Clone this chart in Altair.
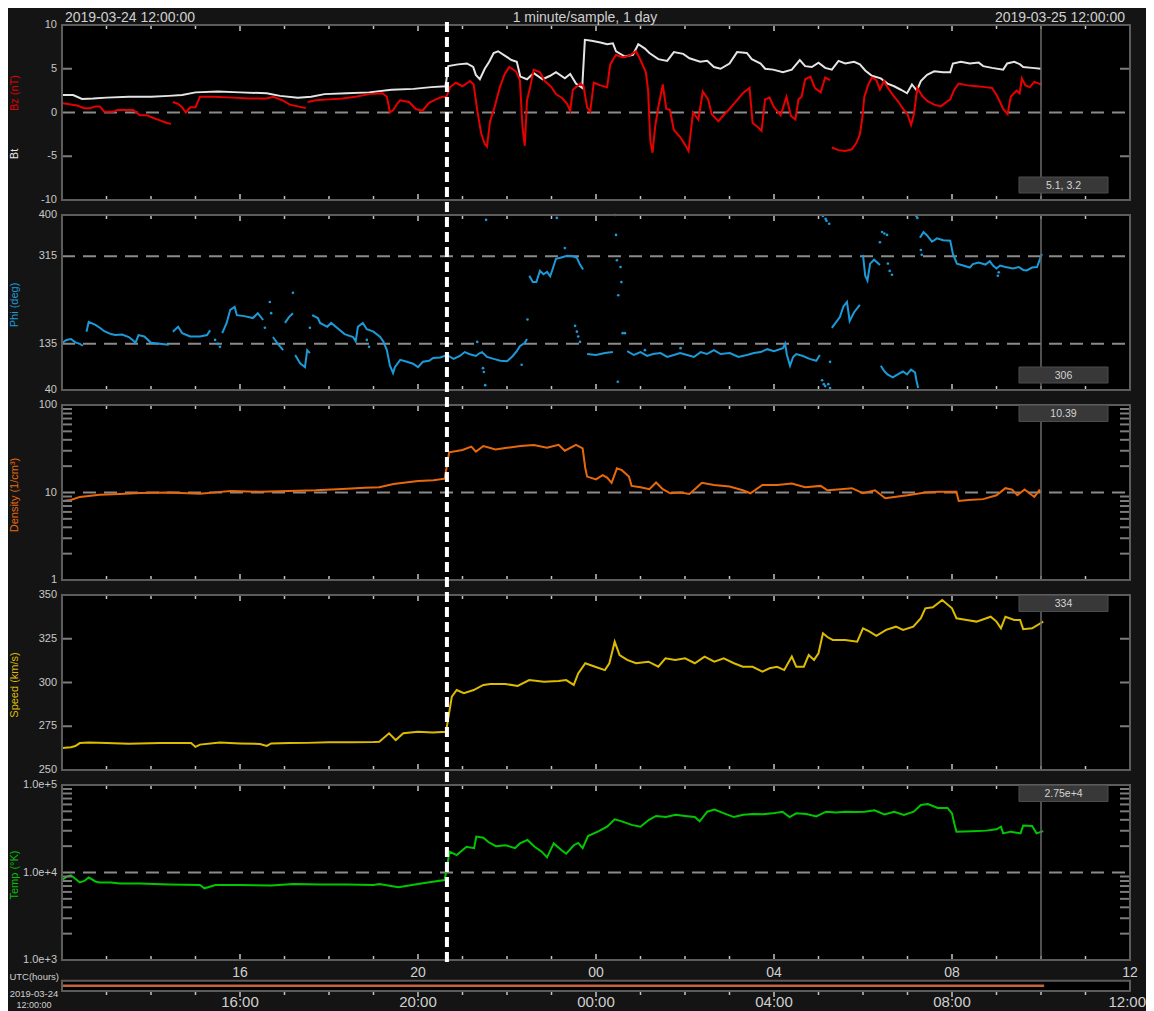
import altair as alt
import pandas as pd

# ---------------- data: (hours after 2019-03-24 12:00 UTC, value); None = gap ----------------
bt = [(0.0,2.0),(0.25,2.0),(0.45,1.55),(0.7,1.6),(1.0,1.7),(1.5,1.8),(2.0,1.8),(2.4,1.9),(2.7,2.0),
      (3.0,2.3),(3.5,2.4),(4.0,2.3),(4.6,2.2),(4.9,1.9),(5.3,1.7),(5.6,1.8),(5.9,2.1),(6.4,2.2),
      (6.9,2.3),(7.4,2.6),(7.9,2.7),(8.3,2.9),(8.62,3.0),(8.68,5.3),(8.9,5.5),(9.1,5.6),(9.24,5.2),
      (9.3,4.3),(9.39,3.8),(9.5,5.0),(9.6,5.8),(9.7,6.8),(9.8,7.0),(9.95,6.5),(10.1,6.0),(10.22,5.8),
      (10.3,4.1),(10.45,3.8),(10.6,4.5),(10.8,3.8),(10.97,4.2),(11.1,4.6),(11.3,3.9),(11.42,4.4),
      (11.55,3.3),(11.69,2.8),(11.75,8.3),(11.9,8.2),(12.1,8.0),(12.25,7.8),(12.38,7.9),(12.45,7.0),
      (12.65,6.4),(12.83,6.6),(12.95,7.8),(13.1,7.3),(13.2,6.8),(13.4,6.1),(13.6,5.9),(13.75,6.9),
      (13.96,6.7),(14.1,6.2),(14.34,5.8),(14.5,5.9),(14.65,5.2),(14.8,5.0),(15.0,5.6),(15.17,6.9),
      (15.39,6.8),(15.5,6.1),(15.7,5.6),(15.8,5.0),(15.98,4.9),(16.2,4.6),(16.4,4.9),(16.58,6.0),
      (16.7,5.3),(16.85,5.2),(17.0,5.7),(17.15,5.1),(17.3,4.9),(17.45,5.9),(17.6,5.6),(17.8,5.8),
      (17.93,5.5),(18.05,4.8),(18.2,4.2),(18.4,3.9),(18.55,3.3),(18.7,3.0),(18.85,2.6),(18.99,2.2),
      (19.1,3.2),(19.21,2.5),(19.3,3.6),(19.44,4.3),(19.6,4.7),(19.8,4.6),(19.96,4.6),(20.02,5.6),
      (20.2,5.8),(20.4,5.6),(20.6,5.7),(20.7,5.3),(20.9,5.1),(21.15,4.9),(21.24,5.6),(21.4,5.8),
      (21.53,5.5),(21.6,5.2),(21.8,5.1),(22.0,5.0)]

bz = [(0.02,1.05),(0.34,0.8),(0.5,0.5),(0.63,0.5),(0.75,0.7),(0.85,0.7),(0.95,0.1),(1.15,0.1),
      (1.25,0.3),(1.6,0.3),(1.75,-0.3),(1.9,-0.3),(2.04,-0.6),(2.2,-0.9),(2.36,-1.2),(2.45,-1.3), None,
      (2.49,1.2),(2.6,1.0),(2.7,0.6),(2.78,0.0),(2.88,0.6),(3.0,0.6),(3.1,1.8),(3.4,1.8),(3.84,1.7),
      (4.2,1.6),(4.6,1.6),(4.75,1.8),(4.95,1.4),(5.12,0.9),(5.3,0.7),(5.48,0.5), None,
      (5.52,1.2),(5.7,1.4),(6.0,1.5),(6.3,1.6),(6.6,1.8),(6.9,2.1),(7.2,2.2),(7.3,1.8),(7.37,0.0),
      (7.45,0.3),(7.53,1.0),(7.6,1.4),(7.8,1.2),(7.95,0.4),(8.1,0.2),(8.25,1.1),(8.4,1.5),(8.55,1.8),
      (8.64,1.8),(8.72,2.9),(8.85,3.4),(9.0,3.0),(9.17,3.6),(9.25,3.2),(9.33,0.3),(9.42,-2.4),
      (9.5,-3.6),(9.55,-3.9),(9.62,-1.0),(9.72,0.6),(9.84,2.9),(9.95,4.4),(10.05,5.2),(10.2,4.7),
      (10.29,3.7),(10.35,-1.8),(10.4,-3.8),(10.45,1.4),(10.52,2.9),(10.6,4.9),(10.74,4.6),(10.85,3.6),
      (11.0,2.9),(11.1,2.1),(11.25,1.6),(11.35,1.0),(11.42,0.2),(11.48,2.6),(11.65,3.3),(11.72,3.0),
      (11.8,0.6),(11.87,0.1),(11.95,3.4),(12.1,3.1),(12.25,2.9),(12.32,5.5),(12.45,6.6),(12.6,6.3),
      (12.75,6.5),(12.9,7.0),(13.0,6.0),(13.12,4.6),(13.17,2.6),(13.22,-3.2),(13.27,-4.6),(13.33,-1.6),
      (13.4,0.6),(13.5,3.2),(13.58,0.4),(13.66,0.3),(13.75,-2.0),(13.89,-2.8),(13.98,-3.5),(14.08,-4.4),
      (14.18,0.0),(14.3,-0.8),(14.4,2.4),(14.52,1.5),(14.6,-0.2),(14.75,-1.0),(14.85,-0.4),(15.0,0.4),
      (15.15,1.3),(15.3,2.2),(15.45,2.8),(15.52,-1.2),(15.62,-1.6),(15.72,-2.1),(15.8,1.5),(15.9,1.7),
      (16.0,0.6),(16.15,-0.3),(16.28,1.8),(16.38,-0.4),(16.48,-0.8),(16.55,1.5),(16.62,1.8),(16.7,3.8),
      (16.82,4.1),(16.92,2.8),(17.05,2.3),(17.15,4.0),(17.26,3.7), None,
      (17.3,-4.0),(17.45,-4.3),(17.6,-4.4),(17.75,-4.2),(17.85,-3.5),(17.93,-2.5),(17.98,-0.8),
      (18.03,1.8),(18.12,3.2),(18.2,4.0),(18.3,3.7),(18.38,2.6),(18.47,3.6),(18.55,2.9),(18.67,2.0),
      (18.8,1.2),(18.9,0.4),(19.0,-0.2),(19.08,-1.4),(19.14,-0.3),(19.22,2.8),(19.33,1.9),(19.45,1.3),
      (19.6,0.9),(19.75,0.7),(19.85,1.1),(19.96,1.5),(20.05,2.6),(20.15,3.3),(20.35,3.1),(20.55,3.0),
      (20.75,2.9),(20.9,2.8),(21.0,2.0),(21.08,1.2),(21.15,0.4),(21.25,-0.2),(21.32,1.8),(21.45,2.5),
      (21.52,2.2),(21.57,3.9),(21.65,3.1),(21.75,2.9),(21.85,3.5),(21.95,3.3),(22.02,3.2)]

phi = [(0.0,137),(0.1,143),(0.2,145),(0.3,138),(0.4,135),(0.47,131), None,
       (0.55,160),(0.6,180),(0.75,174),(0.85,168),(0.95,161),(1.1,155),(1.2,153),(1.35,154),(1.5,149),
       (1.6,142),(1.65,137),(1.72,153),(1.85,150),(2.0,137),(2.2,135),(2.4,133), None,
       (2.49,160),(2.61,170),(2.7,157),(2.88,150),(3.1,150),(3.26,153),(3.33,163), None,
       (3.6,157),(3.7,178),(3.78,205),(3.88,211),(3.93,194),(4.1,192),(4.29,188),(4.4,198),(4.52,184), None,
       (4.74,149),(4.85,135),(4.97,122), None,
       (5.01,178),(5.1,190),(5.19,198), None,
       (5.24,112),(5.35,95),(5.46,87),(5.51,122),(5.57,116), None,
       (5.62,194),(5.75,188),(5.8,178),(5.96,170),(6.05,178),(6.18,168),(6.35,155),(6.54,149),(6.6,140),
       (6.65,170),(6.76,178),(6.85,165),(7.0,160),(7.15,149),(7.22,140),(7.3,122),(7.37,90),(7.44,75),
       (7.48,87),(7.6,102),(7.75,98),(7.89,94),(8.0,87),(8.11,98),(8.25,100),(8.34,106),(8.5,107),
       (8.65,112),(8.8,104),(8.94,110),(9.05,118),(9.15,114),(9.3,110),(9.39,116),(9.44,118),(9.55,108),
       (9.7,104),(9.85,100),(10.0,99),(10.13,110),(10.22,120),(10.29,130),(10.4,137),(10.45,145), None,
       (10.5,275),(10.58,262),(10.66,262),(10.74,285),(10.82,278),(10.9,283),(10.97,274),(11.03,290),
       (11.1,310),(11.2,312),(11.35,316),(11.48,315),(11.57,312),(11.64,298),(11.71,288), None,
       (11.8,114),(12.0,112),(12.2,116),(12.38,118), None,
       (12.7,120),(12.85,112),(13.0,118),(13.15,110),(13.28,114),(13.45,116),(13.6,108),(13.75,112),
       (13.89,116),(14.05,112),(14.2,108),(14.35,118),(14.49,114),(14.65,122),(14.8,114),(15.01,116),
       (15.2,108),(15.39,112),(15.55,116),(15.7,118),(15.85,124),(16.0,120),(16.2,126),(16.25,135),
       (16.29,112),(16.36,90),(16.43,108),(16.5,114),(16.65,110),(16.8,104),(16.95,100),(17.03,112), None,
       (17.3,168),(17.4,180),(17.48,190),(17.56,212),(17.64,221),(17.7,182),(17.8,200),(17.93,215), None,
       (18.0,318),(18.05,275),(18.1,265),(18.16,300),(18.25,308),(18.38,297), None,
       (18.4,90),(18.47,80),(18.55,72),(18.67,66),(18.8,73),(18.9,78),(18.99,72),(19.08,82),(19.17,76),
       (19.2,60),(19.24,44), None,
       (19.28,353),(19.36,365),(19.44,358),(19.55,345),(19.66,352),(19.8,348),(19.96,347),(20.02,320),
       (20.11,300),(20.25,296),(20.4,292),(20.47,299),(20.6,302),(20.75,298),(20.85,305),(20.92,296),
       (21.0,290),(21.08,296),(21.2,293),(21.37,290),(21.5,293),(21.6,287),(21.68,286),(21.8,292),
       (21.91,293),(21.96,305),(22.02,320)]

phi_dots = [(3.44,143),(3.5,135),(3.55,129),(4.56,168),(4.67,221),(4.7,198),(5.19,240),(5.57,168),
            (6.85,143),(6.9,129),(9.33,139),(9.46,85),(9.48,77),(9.51,50),(9.53,390),(10.33,92),
            (10.46,185),(11.12,394),(11.3,332),(11.53,172),(11.57,160),(11.6,150),(11.64,139),
            (12.43,400),(12.45,359),(12.47,307),(12.49,57),(12.5,235),(12.55,293),(12.57,262),
            (12.6,157),(12.65,157),(13.1,122),(13.9,126),(17.08,60),(17.12,52),(17.15,48),(17.22,52),
            (17.26,44),(17.1,398),(17.16,392),(17.18,388),(17.24,382),(17.26,98),(18.38,344),
            (18.43,365),(18.48,362),(18.54,359),(18.56,300),(18.6,285),(18.65,277),(19.2,398),
            (19.22,394),(19.3,328),(19.32,318),(21.03,275),(21.05,282)]

density = [(0.0,8.0),(0.2,8.2),(0.4,8.9),(0.6,9.1),(0.85,9.4),(1.3,9.6),(1.75,9.9),(2.4,10.0),(3.1,9.7),
           (3.5,10.1),(3.8,10.4),(4.45,10.2),(5.1,10.4),(5.7,10.6),(6.3,11.0),(6.8,11.3),(7.13,11.5),
           (7.45,12.5),(8.0,13.5),(8.35,13.8),(8.6,14.4),(8.7,28.8),(9.0,30.6),(9.2,33.4),(9.3,29.3),
           (9.47,34.0),(9.74,31.0),(10.0,32.4),(10.3,34.0),(10.6,34.9),(10.9,32.4),(11.16,35.0),
           (11.3,30.0),(11.55,35.0),(11.7,32.0),(11.76,18.9),(11.8,15.2),(12.0,14.1),(12.15,15.8),
           (12.25,14.8),(12.35,12.9),(12.47,18.9),(12.58,18.0),(12.74,15.2),(12.8,11.9),(13.0,11.5),
           (13.2,10.9),(13.35,13.0),(13.5,10.9),(13.67,9.8),(13.9,10.0),(14.1,9.6),(14.27,11.5),
           (14.38,12.9),(14.65,12.2),(15.0,11.7),(15.3,10.6),(15.47,9.8),(15.74,12.2),(16.07,12.2),
           (16.4,12.7),(16.7,11.5),(17.05,11.9),(17.2,10.6),(17.5,10.9),(17.75,11.2),(18.0,9.8),
           (18.27,10.6),(18.5,8.6),(18.7,8.9),(19.0,9.3),(19.4,10.0),(19.7,10.2),(20.1,10.2),(20.15,8.0),
           (20.37,8.2),(20.7,8.4),(21.0,9.3),(21.2,11.2),(21.35,10.8),(21.47,9.3),(21.63,10.8),
           (21.85,8.9),(21.96,10.6),(22.0,10.1)]

speed = [(0.0,262.6),(0.2,263.0),(0.3,263.7),(0.4,265.4),(0.6,265.7),(1.0,265.4),(1.5,265.0),(2.2,265.4),
         (2.9,265.4),(3.0,263.2),(3.1,264.5),(3.55,265.7),(4.0,265.2),(4.45,264.9),(4.6,263.8),(4.7,265.2),
         (5.1,265.4),(5.5,265.5),(6.0,265.8),(6.5,265.8),(7.0,266.0),(7.13,266.2),(7.35,271.0),(7.5,267.1),
         (7.67,271.0),(8.0,271.9),(8.33,271.5),(8.63,271.9),(8.76,291.9),(8.87,295.7),(9.03,293.9),
         (9.25,295.7),(9.47,298.6),(9.63,299.2),(9.96,299.2),(10.24,298.0),(10.5,301.4),(10.83,300.5),
         (11.16,300.9),(11.33,301.4),(11.5,298.6),(11.6,305.2),(11.76,311.0),(11.98,309.0),(12.2,307.1),
         (12.3,311.0),(12.42,323.3),(12.53,315.7),(12.7,312.9),(12.9,311.0),(13.18,311.9),(13.4,309.0),
         (13.56,313.8),(13.78,312.9),(14.0,313.8),(14.22,311.0),(14.44,314.8),(14.66,311.9),(14.87,313.8),
         (15.1,311.0),(15.3,309.0),(15.52,309.0),(15.74,306.2),(15.9,308.1),(16.07,309.0),(16.23,307.1),
         (16.4,314.8),(16.5,309.0),(16.67,309.0),(16.78,315.7),(16.9,312.9),(17.0,316.7),(17.1,328.1),
         (17.2,326.0),(17.32,324.3),(17.6,324.3),(17.87,323.3),(18.0,331.0),(18.14,329.2),(18.3,326.7),
         (18.52,330.1),(18.74,331.9),(18.9,330.0),(19.13,331.9),(19.3,336.7),(19.4,342.4),(19.57,343.0),
         (19.78,347.1),(20.0,342.4),(20.1,336.7),(20.33,335.7),(20.55,334.8),(20.87,337.6),(21.0,334.8),
         (21.1,331.0),(21.2,337.6),(21.4,335.7),(21.53,335.7),(21.6,330.5),(21.8,331.0),(22.05,334.8)]

temp = [(0.0,8200),(0.1,8900),(0.2,9300),(0.3,8500),(0.4,7700),(0.5,8000),(0.6,8800),(0.75,7900),
        (0.85,7700),(1.1,7700),(1.3,7500),(1.75,7500),(2.4,7300),(3.1,7200),(3.2,6600),(3.45,7200),
        (4.0,7200),(4.7,7100),(5.2,7400),(5.8,7300),(6.4,7300),(7.0,7200),(7.13,7400),(7.56,6800),
        (8.0,7400),(8.33,7850),(8.6,8200),(8.71,17300),(8.87,15800),(9.09,19700),(9.26,19000),
        (9.31,25700),(9.47,25000),(9.58,22300),(9.75,20000),(9.97,20500),(10.18,19000),(10.29,21500),
        (10.46,23500),(10.62,19700),(10.78,17300),(10.9,14900),(11.05,21500),(11.22,18100),(11.33,16400),
        (11.5,20500),(11.6,21800),(11.7,19000),(11.82,26100),(12.04,29300),(12.25,33400),(12.42,40600),
        (12.58,38400),(12.8,35000),(13.0,33400),(13.19,40000),(13.35,44300),(13.57,43000),(13.79,45600),
        (14.0,44300),(14.22,43000),(14.33,38400),(14.5,49500),(14.66,52400),(14.88,47400),(15.1,43000),
        (15.31,45600),(15.53,46500),(15.75,46200),(15.97,47400),(16.19,49500),(16.35,43000),(16.5,47400),
        (16.73,46500),(16.95,43700),(17.17,49500),(17.39,48600),(17.6,49500),(17.83,49000),(18.04,49500),
        (18.26,51500),(18.48,46200),(18.7,49500),(18.92,45600),(19.14,49500),(19.3,59100),(19.46,60500),
        (19.68,54700),(19.9,54700),(20.0,47400),(20.05,36500),(20.1,29300),(20.45,29700),(20.77,30100),
        (21.0,31200),(21.1,33400),(21.15,28000),(21.32,29300),(21.54,28000),(21.6,34500),(21.8,34000),
        (21.9,28000),(22.05,29700)]

# tick values and labels
bz_ticks = [10, 5, 0, -5, -10]
phi_ticks = [400, 315, 135, 40]
dens_ticks = [100, 10, 1]
speed_ticks = [350, 325, 300, 275, 250]
temp_ticks = [100000, 10000, 1000]
temp_labels = ["1.0e+5", "1.0e+4", "1.0e+3"]
hour_pos = [4, 8, 12, 16, 20, 24]
hour_labels = ["16", "20", "00", "04", "08", "12"]
hhmm_pos = [4, 8, 12, 16, 20]
hhmm_labels = ["16:00", "20:00", "00:00", "04:00", "08:00"]
last_hhmm = "12:00"
latest = ["5.1, 3.2", "306", "10.39", "334", "2.75e+4"]
event_hour = 8.65
now_hour = 22.0

# ---------------- layout / style ----------------
W = 1068
PH = 175
TOPS = [0, 190, 380, 570, 760]
FONT = "Liberation Sans"
LBL = "#c8c8c8"

XS = alt.Scale(domain=[0, 24], nice=False, zero=False)


def ysc(i, dom, log=False):
    r = [TOPS[i] + PH, TOPS[i]]
    if log:
        return alt.Scale(type="log", domain=dom, range=r, nice=False)
    return alt.Scale(domain=dom, range=r, nice=False, zero=False)


YS = [ysc(0, [-10, 10]), ysc(1, [40, 400]), ysc(2, [1, 100], True),
      ysc(3, [250, 350]), ysc(4, [1000, 100000], True)]


def seg_df(pairs):
    rows, s = [], 0
    for p in pairs:
        if p is None:
            s += 1
            continue
        rows.append({"h": p[0], "v": p[1], "seg": s})
    return pd.DataFrame(rows)


def line(pairs, i, color, width=2.0):
    return alt.Chart(seg_df(pairs)).mark_line(color=color, strokeWidth=width).encode(
        x=alt.X("h:Q", scale=XS, axis=None),
        y=alt.Y("v:Q", scale=YS[i], axis=None),
        detail="seg:N")


def dots(pairs, i, color):
    return alt.Chart(seg_df(pairs)).mark_circle(color=color, size=7, opacity=1).encode(
        x=alt.X("h:Q", scale=XS, axis=None),
        y=alt.Y("v:Q", scale=YS[i], axis=None))


def hline(vals, i):
    return alt.Chart(pd.DataFrame({"v": vals})).mark_rule(
        color="#8a8a8a", strokeWidth=2, strokeDash=[13, 8]).encode(
        y=alt.Y("v:Q", scale=YS[i], axis=None), x=alt.value(0), x2=alt.value(W))


def yticks(vals, i, length=10):
    base = alt.Chart(pd.DataFrame({"v": vals})).mark_rule(color="#7c7c7c", strokeWidth=2)
    y = alt.Y("v:Q", scale=YS[i], axis=None)
    return [base.encode(y=y, x=alt.value(0), x2=alt.value(length)),
            base.encode(y=y, x=alt.value(W - length), x2=alt.value(W))]


def ylabels(vals, labels, i):
    df = pd.DataFrame({"v": vals, "t": labels})
    return alt.Chart(df).mark_text(align="right", baseline="middle", font=FONT,
                                   fontSize=11, color=LBL).encode(
        y=alt.Y("v:Q", scale=YS[i], axis=None), x=alt.value(-5), text="t:N")


def text(s, x, y, size=11, color=LBL, align="left", baseline="alphabetic", angle=0):
    kw = dict(font=FONT, fontSize=size, color=color, align=align, baseline=baseline)
    if angle:
        kw["angle"] = angle
    return alt.Chart(pd.DataFrame({"t": [s]})).mark_text(**kw).encode(
        text="t:N", x=alt.value(x), y=alt.value(y))


layers = []

# black plot areas (5 panels + time strip)
frames = pd.DataFrame({"top": TOPS + [955.7], "bot": [t + PH for t in TOPS] + [966]})
layers.append(alt.Chart(frames).mark_rect(fill="#000000").encode(
    x=alt.value(0), x2=alt.value(W), y=alt.Y("top:Q", scale=None), y2="bot:Q"))

# dashed reference lines
layers += [hline([0], 0), hline([315, 135], 1), hline([10], 2), hline([10000], 4)]

# data
layers.append(line(bt, 0, "#e4e4e4"))
layers.append(line(bz, 0, "#e60000"))
layers.append(line(phi, 1, "#1c9ad8"))
layers.append(dots(phi_dots, 1, "#1c9ad8"))
layers.append(line(density, 2, "#e8680c"))
layers.append(line(speed, 3, "#dcbc00"))
layers.append(line(temp, 4, "#00c800"))

# inner y ticks
minor_dens = [m * d for d in (1, 10) for m in range(2, 10)]
minor_temp = [m * d for d in (1000, 10000) for m in range(2, 10)]
layers += yticks([5, -5], 0)
layers += yticks(minor_dens, 2)
layers += yticks([325, 300, 275], 3)
layers += yticks(minor_temp, 4)

# hour ticks (top & bottom of each panel, below the strip)
rows = []
for t in TOPS:
    for h in range(1, 24):
        L = 6 if h % 4 == 0 else 4
        rows.append({"h": h, "y1": t, "y2": t + L})
        rows.append({"h": h, "y1": t + PH - L, "y2": t + PH})
for h in range(1, 24):
    L = 6 if h % 4 == 0 else 4
    rows.append({"h": h, "y1": 966, "y2": 966 + L})
layers.append(alt.Chart(pd.DataFrame(rows)).mark_rule(color="#c4c4c4", strokeWidth=1.5).encode(
    x=alt.X("h:Q", scale=XS, axis=None), y=alt.Y("y1:Q", scale=None), y2="y2:Q"))

# current-time vertical line
now_df = pd.DataFrame({"h": [now_hour] * 5, "y1": TOPS, "y2": [t + PH for t in TOPS]})
layers.append(alt.Chart(now_df).mark_rule(color="#6a6a6a", strokeWidth=1.5).encode(
    x=alt.X("h:Q", scale=XS, axis=None), y=alt.Y("y1:Q", scale=None), y2="y2:Q"))

# data coverage strip line
layers.append(alt.Chart(pd.DataFrame({"h0": [0.0], "h1": [22.07]})).mark_rule(
    color="#c8643c", strokeWidth=2.5).encode(
    x=alt.X("h0:Q", scale=XS, axis=None), x2="h1:Q", y=alt.value(960.7)))

# panel borders
layers.append(alt.Chart(frames).mark_rect(fillOpacity=0, stroke="#5c5c5c", strokeWidth=2).encode(
    x=alt.value(0), x2=alt.value(W), y=alt.Y("top:Q", scale=None), y2="bot:Q"))

# latest-value boxes
box_top = [152, 342, 380.5, 570.5, 760.5]
boxes = pd.DataFrame({"y1": box_top, "y2": [b + 16 for b in box_top],
                      "yc": [b + 8.5 for b in box_top], "t": latest})
layers.append(alt.Chart(boxes).mark_rect(fill="#383838", stroke="#4c4c4c", strokeWidth=1).encode(
    x=alt.value(957), x2=alt.value(1046), y=alt.Y("y1:Q", scale=None), y2="y2:Q"))
layers.append(alt.Chart(boxes).mark_text(font=FONT, fontSize=10.5, color="#d4d4d4",
                                         align="center", baseline="middle").encode(
    x=alt.value(1001.5), y=alt.Y("yc:Q", scale=None), text="t:N"))

# event marker (white dashed vertical line)
layers.append(alt.Chart(pd.DataFrame({"h": [event_hour]})).mark_rule(
    color="#ffffff", strokeWidth=4, strokeDash=[10, 5]).encode(
    x=alt.X("h:Q", scale=XS, axis=None), y=alt.value(-3), y2=alt.value(937)))

# y-axis labels
layers.append(ylabels(bz_ticks, [str(v) for v in bz_ticks], 0))
layers.append(ylabels(phi_ticks, [str(v) for v in phi_ticks], 1))
layers.append(ylabels(dens_ticks, [str(v) for v in dens_ticks], 2))
layers.append(ylabels(speed_ticks, [str(v) for v in speed_ticks], 3))
layers.append(ylabels(temp_ticks, temp_labels, 4))

# axis titles (rotated)
TX = -47
layers.append(text("Bz (nT)", TX, 68, color="#e00000", align="center", baseline="middle", angle=270))
layers.append(text("Bt", TX, 129, color="#e8e8e8", align="center", baseline="middle", angle=270))
layers.append(text("Phi (deg)", TX, 280, color="#1c9ad8", align="center", baseline="middle", angle=270))
layers.append(text("Density (1/cm\u00b3)", TX, 470, color="#e8680c", align="center", baseline="middle", angle=270))
layers.append(text("Speed (km/s)", TX, 660, color="#dcbc00", align="center", baseline="middle", angle=270))
layers.append(text("Temp (\u00b0K)", TX, 850, color="#00c000", align="center", baseline="middle", angle=270))

# header
HY = -3.5
layers.append(text("2019-03-24 12:00:00", 3, HY, size=14, color="#d0d0d0"))
layers.append(text("1 minute/sample, 1 day", 523, HY, size=14, color="#d0d0d0", align="center"))
layers.append(text("2019-03-25 12:00:00", 1063, HY, size=14, color="#d0d0d0", align="right"))

# bottom hour labels
hl = pd.DataFrame({"h": hour_pos, "a": hour_labels})
layers.append(alt.Chart(hl).mark_text(font=FONT, fontSize=14, color="#d0d0d0", align="center",
                                      baseline="alphabetic").encode(
    x=alt.X("h:Q", scale=XS, axis=None), y=alt.value(952), text="a:N"))
hm = pd.DataFrame({"h": hhmm_pos, "b": hhmm_labels})
layers.append(alt.Chart(hm).mark_text(font=FONT, fontSize=15, color="#d0d0d0", align="center",
                                      baseline="alphabetic").encode(
    x=alt.X("h:Q", scale=XS, axis=None), y=alt.value(981.5), text="b:N"))
layers.append(text(last_hhmm, W + 16, 981.5, size=15, color="#d0d0d0", align="right"))
layers.append(text("UTC(hours)", -3, 954.5, size=9.5, color="#d0d0d0", align="right"))
layers.append(text("2019-03-24", -28, 971.5, size=9.5, color="#d0d0d0", align="center"))
layers.append(text("12:00:00", -28, 982.5, size=9, color="#d0d0d0", align="center"))

chart = alt.layer(*layers).resolve_scale(y="independent").properties(
    width=W,
    height=986,
    padding={"left": 54, "top": 17, "right": 16, "bottom": 0},
    autosize=alt.AutoSizeParams(type="none"),
    background="#141414",
).configure_view(stroke="transparent")

chart.save("out.html", embed_options={"renderer": "svg", "actions": False})
